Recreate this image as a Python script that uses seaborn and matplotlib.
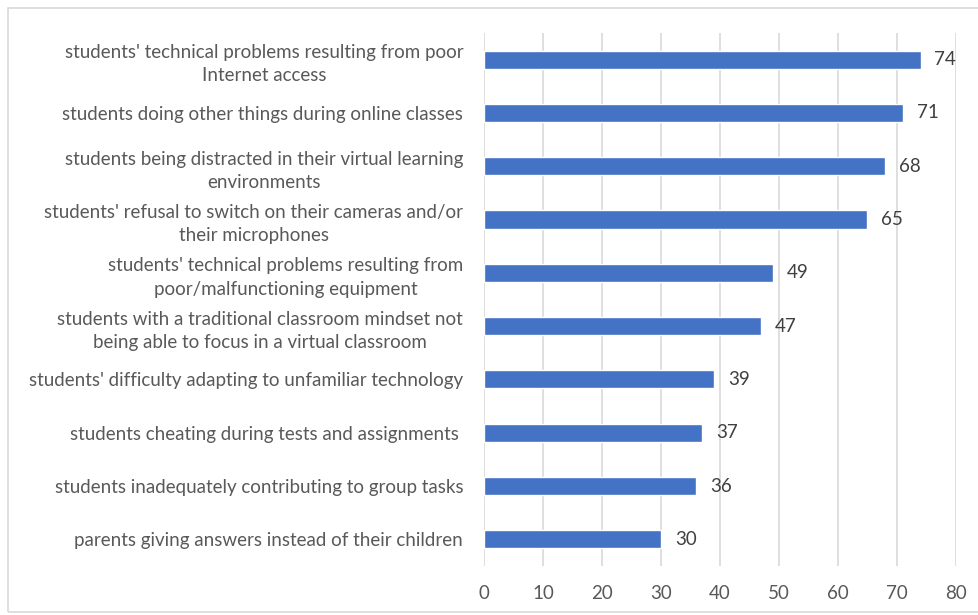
import matplotlib.pyplot as plt
import matplotlib.patches as mpatches
import pandas as pd
import seaborn as sns

categories = [
    "students' technical problems resulting from poor\nInternet access",
    "students doing other things during online classes",
    "students being distracted in their virtual learning\nenvironments",
    "students' refusal to switch on their cameras and/or\ntheir microphones",
    "students' technical problems resulting from\npoor/malfunctioning equipment",
    "students with a traditional classroom mindset not\nbeing able to focus in a virtual classroom",
    "students' difficulty adapting to unfamiliar technology",
    "students cheating during tests and assignments ",
    "students inadequately contributing to group tasks",
    "parents giving answers instead of their children",
]
values = [74, 71, 68, 65, 49, 47, 39, 37, 36, 30]
x_ticks = [0, 10, 20, 30, 40, 50, 60, 70, 80]

df = pd.DataFrame({"category": categories, "value": values})

sns.set_style("white")
plt.rcParams["font.family"] = ["Lato", "DejaVu Sans"]

fig = plt.figure(figsize=(9.79, 6.15), dpi=100)
ax = fig.add_axes([0.4944, 0.0797, 0.4821, 0.8667])

sns.barplot(data=df, x="value", y="category", color="#4472C4", width=0.34,
            saturation=1, ax=ax, zorder=3)

ax.set_xlim(0, 80)
ax.set_xticks(x_ticks)
ax.grid(axis="x", color="#D9D9D9", linewidth=1.2, zorder=0)
ax.set_axisbelow(True)
for s in ax.spines.values():
    s.set_visible(False)
ax.set_xlabel("")
ax.set_ylabel("")
ax.tick_params(axis="x", length=0, labelsize=13.5, labelcolor="#595959", pad=14)
ax.tick_params(axis="y", length=0, labelsize=13.5, labelcolor="#595959", pad=15)
for lab in ax.get_yticklabels():
    lab.set_multialignment("center")
    lab.set_linespacing(1.45)

for cont in ax.containers:
    ax.bar_label(cont, padding=10, fontsize=13.5, color="#404040")

frame = mpatches.Rectangle((8 / 979, 3 / 615), 1.0, 604 / 615, transform=fig.transFigure,
                           fill=False, edgecolor="#D9D9D9", linewidth=1.2)
fig.patches.append(frame)

fig.savefig("out.png", dpi=100)
